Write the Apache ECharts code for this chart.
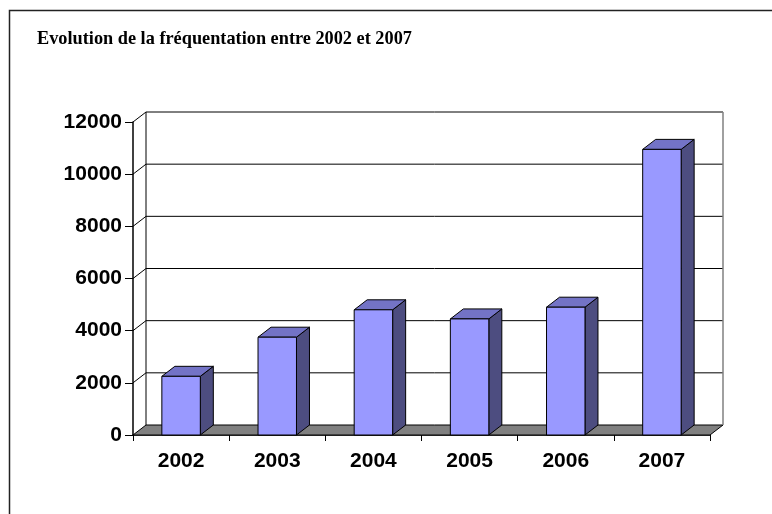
<!DOCTYPE html>
<html>
<head>
<meta charset="utf-8">
<title>Evolution de la fréquentation</title>
<script src="https://cdn.jsdelivr.net/npm/echarts@6/dist/echarts.min.js"></script>
<style>
  body { margin: 0; background: #fff; }
  #main { width: 772px; height: 514px; }
</style>
</head>
<body>
<div id="main"></div>
<script>
// données
var annees = ['2002', '2003', '2004', '2005', '2006', '2007'];
var frequentation = [2250, 3750, 4800, 4450, 4900, 10950];
var graduations = [0, 2000, 4000, 6000, 8000, 10000, 12000];

// décalage de la profondeur (effet 3D façon Excel)
var DX = 13, DY = -10;

var myChart = echarts.init(document.getElementById('main'));

// murs du fond, plancher et paroi gauche
function renderMurs(params, api) {
    var cs = params.coordSys;
    var v = api.value(0);
    var y = api.coord([0, v])[1];
    var y0 = api.coord([0, 0])[1];
    var xl = cs.x, xr = cs.x + cs.width;
    var children = [];
    if (v === 0) {
        children.push({
            type: 'polygon',
            shape: { points: [[xl, y], [xr, y], [xr + DX, y + DY], [xl + DX, y + DY]] },
            style: { fill: '#808080', stroke: '#000', lineWidth: 1 }
        });
    } else {
        children.push({
            type: 'line',
            shape: { x1: xl + DX, y1: y + DY, x2: xr + DX, y2: y + DY },
            style: { stroke: '#000', lineWidth: 1 }
        });
        children.push({
            type: 'line',
            shape: { x1: xl, y1: y, x2: xl + DX, y2: y + DY },
            style: { stroke: '#000', lineWidth: 1 }
        });
    }
    if (v === graduations[graduations.length - 1]) {
        children.push({
            type: 'line',
            shape: { x1: xl + DX, y1: y + DY, x2: xl + DX, y2: y0 + DY },
            style: { stroke: '#000', lineWidth: 1 }
        });
        children.push({
            type: 'line',
            shape: { x1: xr + DX, y1: y + DY, x2: xr + DX, y2: y0 + DY },
            style: { stroke: '#808080', lineWidth: 1.5 }
        });
    }
    return { type: 'group', children: children };
}

// colonnes en 3D : face avant, dessus, côté
function renderBarres(params, api) {
    var i = api.value(0);
    var bas = api.coord([i, 0]);
    var haut = api.coord([i, api.value(1)]);
    var w = api.size([1, 0])[0] * 0.4;
    var x0 = haut[0] - w / 2, x1 = haut[0] + w / 2;
    var yt = haut[1], yb = bas[1];
    var trait = { stroke: '#000', lineWidth: 1 };
    return {
        type: 'group',
        children: [
            {
                type: 'polygon',
                shape: { points: [[x1, yt], [x1, yb], [x1 + DX, yb + DY], [x1 + DX, yt + DY]] },
                style: Object.assign({ fill: '#4D4D80' }, trait)
            },
            {
                type: 'polygon',
                shape: { points: [[x0, yt], [x1, yt], [x1 + DX, yt + DY], [x0 + DX, yt + DY]] },
                style: Object.assign({ fill: '#7373C6' }, trait)
            },
            {
                type: 'rect',
                shape: { x: x0, y: yt, width: w, height: yb - yt },
                style: Object.assign({ fill: '#9999FF' }, trait)
            }
        ]
    };
}

var option = {
    animation: false,
    backgroundColor: '#fff',
    title: {
        text: 'Evolution de la fréquentation entre 2002 et 2007',
        left: 32,
        top: 25,
        textStyle: {
            fontFamily: 'Liberation Serif',
            fontWeight: 'bold',
            fontSize: 18.3,
            color: '#000'
        }
    },
    graphic: [
        {
            type: 'rect',
            shape: { x: 9.5, y: 10.5, width: 900, height: 700 },
            style: { fill: 'none', stroke: '#222', lineWidth: 1.5 },
            silent: true
        }
    ],
    grid: { left: 133, right: 62, top: 122, bottom: 79 },
    xAxis: {
        type: 'category',
        data: annees,
        boundaryGap: true,
        axisLine: { lineStyle: { color: '#000', width: 1.5 } },
        axisTick: { show: true, length: 6, lineStyle: { color: '#000' } },
        axisLabel: {
            margin: 16,
            color: '#000',
            fontFamily: 'Liberation Sans',
            fontWeight: 'bold',
            fontSize: 21
        },
        splitLine: { show: false }
    },
    yAxis: {
        type: 'value',
        min: 0,
        max: 12000,
        interval: 2000,
        axisLine: { show: true, lineStyle: { color: '#000', width: 1.5 } },
        axisTick: { show: true, length: 8, lineStyle: { color: '#000' } },
        axisLabel: {
            margin: 11,
            color: '#000',
            fontFamily: 'Liberation Sans',
            fontWeight: 'bold',
            fontSize: 21,
            formatter: function (v) { return String(v); }
        },
        splitLine: { show: false }
    },
    series: [
        {
            type: 'custom',
            renderItem: renderMurs,
            data: graduations.map(function (g) { return [g]; }),
            encode: { y: 0 },
            z: 1,
            silent: true
        },
        {
            type: 'custom',
            renderItem: renderBarres,
            data: annees.map(function (a, i) { return [i, frequentation[i]]; }),
            encode: { x: 0, y: 1 },
            z: 3
        }
    ]
};
myChart.setOption(option);
</script>
</body>
</html>
